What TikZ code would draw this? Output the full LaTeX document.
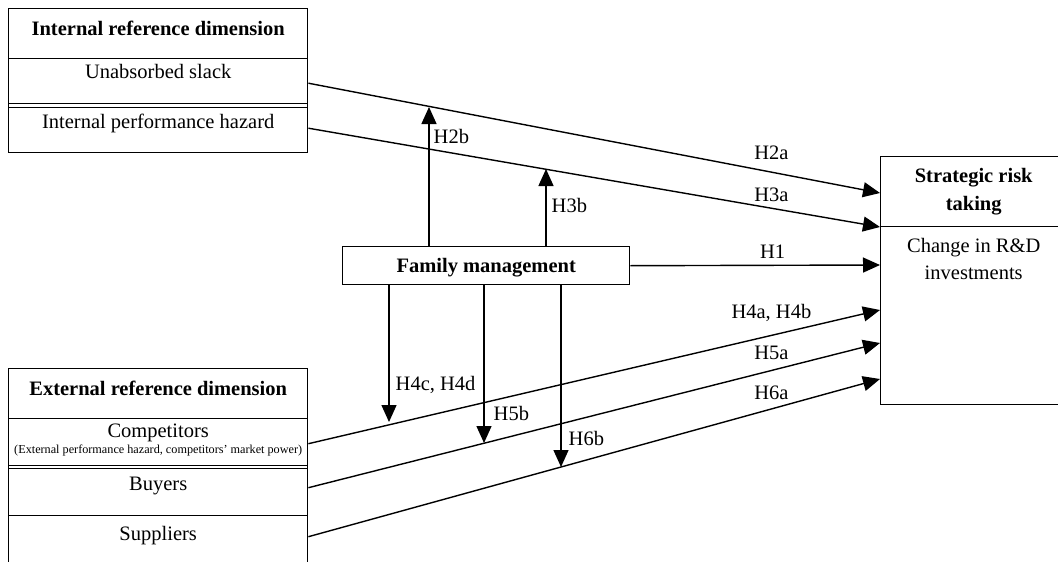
\documentclass[tikz,border=0pt]{standalone}
\usepackage{fontspec}
\setmainfont{Liberation Serif}
\usetikzlibrary{arrows.meta}

\begin{document}
\begin{tikzpicture}[
    >={Triangle[length=17pt,width=15pt]},
    line width=1.4pt,
    x=1pt,
    y=-1pt,
    every node/.style={font=\fontsize{20.5}{27.5}\selectfont, inner sep=0pt},
    cell/.style={draw, line width=1.4pt, anchor=north west, minimum width=299pt, align=center},
    headtext/.style={font=\fontsize{20.5}{28}\selectfont\bfseries}
]

\useasboundingbox (0,0) rectangle (1058,562);
\clip (0,0) rectangle (1058,562);

% internal reference dimension
\node[cell, headtext, text height=27pt, text depth=23pt] (inthead) at (8,8) {Internal reference dimension};
\node[cell, text height=20pt, text depth=29pt] (slack) at (8,58) {Unabsorbed slack};
\node[cell, text height=25pt, text depth=24pt] (perf) at (8,103) {Internal performance hazard};

% external reference dimension
\node[cell, headtext, text height=27pt, text depth=23pt] (exthead) at (8,368) {External reference dimension};
\node[cell, font=\fontsize{20.5}{16}\selectfont, text height=35pt, text depth=15pt] (comp) at (8,418)
    {Competitors\\{\fontsize{12.2}{14}\selectfont (External performance hazard, competitors’ market power)}};
\node[cell, text height=25pt, text depth=25pt] (buyers) at (8,465) {Buyers};
\node[cell, text height=25pt, text depth=40pt] (supp) at (8,515) {Suppliers};

% family management
\node[cell, headtext, minimum width=287pt, text height=26pt, text depth=12pt] (fam) at (342,246) {Family management};

% strategic risk taking
\node[cell, headtext, minimum width=186pt, minimum height=70pt] (srthead) at (880,156) {Strategic risk\\taking};
\node[cell, minimum width=186pt, text height=53pt, text depth=125pt] (srtbody) at (880,226) {Change in R\&D\\investments};

% arrow ends
\coordinate (t2a) at (880,193);
\coordinate (t3a) at (880,227);
\coordinate (t1)  at (880,265);
\coordinate (t4a) at (880,310);
\coordinate (t5a) at (880,343);
\coordinate (t6a) at (880,379);

\coordinate (m2b) at (429,107);
\coordinate (m3b) at (546,169);
\coordinate (m4c) at (389,422);
\coordinate (m5b) at (484,443);
\coordinate (m6b) at (561,467);

% direct effects
\draw[->] (slack.east) -- node[pos=0.81, above=12pt] {H2a} (t2a);
\draw[->] (perf.east) -- node[pos=0.81, above=5.5pt] {H3a} (t3a);
\draw[->] (fam.east) -- node[pos=0.57, above=6pt] {H1} (t1);
\draw[->] (comp.east) -- node[pos=0.81, above=13pt] {H4a, H4b} (t4a);
\draw[->] ([yshift=3pt]buyers.east) -- node[pos=0.81, above=10pt] {H5a} (t5a);
\draw[->] ([yshift=11.5pt]supp.east) -- node[pos=0.81, above=8.6pt] {H6a} (t6a);

% moderating effects
\draw[->] (fam.north -| m2b) -- node[pos=0.74, anchor=base west, xshift=4pt] {H2b} (m2b);
\draw[->] (fam.north -| m3b) -- node[pos=0.44, anchor=base west, xshift=5pt] {H3b} (m3b);
\draw[->] (fam.south -| m4c) -- node[pos=0.77, anchor=base west, xshift=6pt] {H4c, H4d} (m4c);
\draw[->] (fam.south -| m5b) -- node[pos=0.855, anchor=base west, xshift=9pt] {H5b} (m5b);
\draw[->] (fam.south -| m6b) -- node[pos=0.88, anchor=base west, xshift=7pt] {H6b} (m6b);

\end{tikzpicture}
\end{document}
